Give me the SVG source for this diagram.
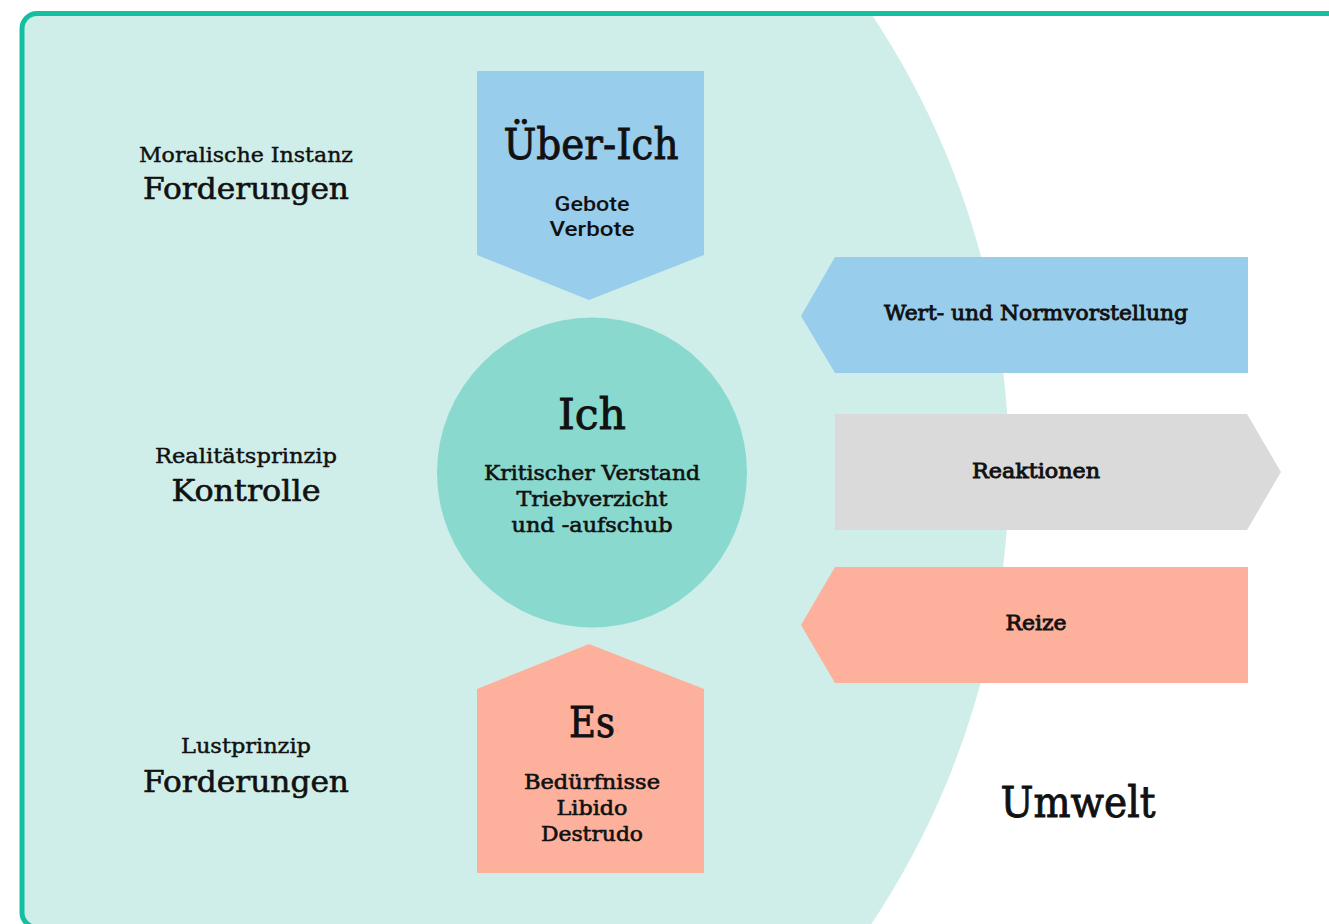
<svg xmlns="http://www.w3.org/2000/svg" width="1329" height="924" viewBox="0 0 1329 924">
<style>
.s{font-family:"DejaVu Serif","Liberation Serif",serif;fill:#111;text-anchor:middle;stroke:#111;stroke-width:0.45px}
.sans{font-family:Roboto,"Liberation Sans",sans-serif;fill:#111;text-anchor:middle;font-weight:500}
.t{font-size:42px;stroke-width:0.9px}
.sub{font-size:20px;stroke-width:0.6px}
.lab{font-size:21px}
.big{font-size:29px;stroke-width:0.6px}
.arr{font-size:21px;stroke-width:0.9px}
</style>
<defs>
<clipPath id="frameclip"><rect x="22" y="13.5" width="1400" height="914" rx="15"/></clipPath>
</defs>
<g id="background">
<rect x="0" y="0" width="1329" height="924" fill="#ffffff"/>
<circle cx="188" cy="469" r="821" fill="#cfeee9" clip-path="url(#frameclip)"/>
<rect x="22" y="13.5" width="1400" height="914" rx="15" fill="none" stroke="#14bfa1" stroke-width="5"/>
</g>
<g id="connectors"/>
<g id="label-moral">
<text class="s lab" x="246" y="162" textLength="214" lengthAdjust="spacingAndGlyphs">Moralische Instanz</text>
<text class="s big" x="246" y="199" textLength="206" lengthAdjust="spacingAndGlyphs">Forderungen</text>
</g>
<g id="label-real">
<text class="s lab" x="246" y="463" textLength="182" lengthAdjust="spacingAndGlyphs">Realitätsprinzip</text>
<text class="s big" x="246" y="501" textLength="149" lengthAdjust="spacingAndGlyphs">Kontrolle</text>
</g>
<g id="label-lust">
<text class="s lab" x="246" y="753" textLength="130" lengthAdjust="spacingAndGlyphs">Lustprinzip</text>
<text class="s big" x="246" y="792" textLength="206" lengthAdjust="spacingAndGlyphs">Forderungen</text>
</g>
<g id="ueber-ich">
<polygon points="477,71 704,71 704,255 589,300 477,255" fill="#99cdec"/>
<text class="s t" x="591" y="159" textLength="175" lengthAdjust="spacingAndGlyphs">Über-Ich</text>
<text class="sans sub" x="592" y="211" textLength="75" lengthAdjust="spacingAndGlyphs">Gebote</text>
<text class="sans sub" x="592" y="236" textLength="85" lengthAdjust="spacingAndGlyphs">Verbote</text>
</g>
<g id="ich">
<circle cx="592" cy="472.5" r="155" fill="#89d9cf"/>
<text class="s t" x="592" y="429" textLength="68" lengthAdjust="spacingAndGlyphs">Ich</text>
<text class="s sub" x="592" y="480" textLength="216" lengthAdjust="spacingAndGlyphs">Kritischer Verstand</text>
<text class="s sub" x="592" y="506" textLength="151" lengthAdjust="spacingAndGlyphs">Triebverzicht</text>
<text class="s sub" x="592" y="532" textLength="161" lengthAdjust="spacingAndGlyphs">und -aufschub</text>
</g>
<g id="es">
<polygon points="589,644 704,689 704,873 477,873 477,689" fill="#fdb09b"/>
<text class="s t" x="592" y="737" textLength="46" lengthAdjust="spacingAndGlyphs">Es</text>
<text class="s sub" x="592" y="789" textLength="136" lengthAdjust="spacingAndGlyphs">Bedürfnisse</text>
<text class="s sub" x="592" y="815" textLength="71" lengthAdjust="spacingAndGlyphs">Libido</text>
<text class="s sub" x="592" y="841" textLength="102" lengthAdjust="spacingAndGlyphs">Destrudo</text>
</g>
<g id="wert">
<polygon points="835,257 1248,257 1248,373 835,373 801,316" fill="#99cdec"/>
<text class="s arr" x="1036" y="320" textLength="304" lengthAdjust="spacingAndGlyphs">Wert- und Normvorstellung</text>
</g>
<g id="reaktionen">
<polygon points="835,414 1247,414 1281,472 1247,530 835,530" fill="#dadada"/>
<text class="s arr" x="1036" y="478" textLength="128" lengthAdjust="spacingAndGlyphs">Reaktionen</text>
</g>
<g id="reize">
<polygon points="835,567 1248,567 1248,683 835,683 801,625" fill="#fdb09b"/>
<text class="s arr" x="1036" y="630" textLength="61" lengthAdjust="spacingAndGlyphs">Reize</text>
</g>
<g id="umwelt">
<text class="s t" x="1078" y="817" textLength="155" lengthAdjust="spacingAndGlyphs">Umwelt</text>
</g>
</svg>
